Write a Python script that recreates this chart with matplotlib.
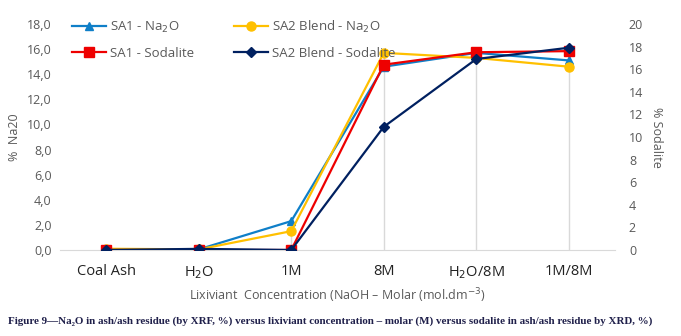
import numpy as np
import matplotlib.pyplot as plt
from matplotlib.ticker import FuncFormatter

# Data
categories = ["Coal Ash", "H$_2$O", "1M", "8M", "H$_2$O/8M", "1M/8M"]
sa1_na2o = [0.0, 0.05, 2.3, 14.6, 15.7, 15.1]
sa2_na2o = [0.1, 0.05, 1.5, 15.7, 15.3, 14.6]
sa1_sodalite = [0.0, 0.0, 0.0, 16.4, 17.5, 17.6]
sa2_sodalite = [0.0, 0.1, 0.0, 10.9, 16.9, 17.9]

plt.rcParams['font.family'] = ['Open Sans', 'DejaVu Sans']
grey = '#595959'

fig = plt.figure(figsize=(6.81, 3.36), dpi=100)
ax = fig.add_axes([60/681, 1-250/336, 555/681, 226/336])
ax2 = ax.twinx()

x = np.arange(len(categories))

# drop lines at each category
for i in x:
    top = max(sa1_na2o[i], sa2_na2o[i], sa1_sodalite[i]*18/20, sa2_sodalite[i]*18/20)
    ax.plot([i, i], [0, top], color='#d9d9d9', lw=1, zorder=1)

l1, = ax.plot(x, sa1_na2o, color='#0f7fc8', marker='^', ms=6, lw=1.6, label='SA1 - Na$_2$O', zorder=3)
l2, = ax.plot(x, sa2_na2o, color='#ffc000', marker='o', ms=6.5, lw=1.6, label='SA2 Blend - Na$_2$O', zorder=3)
l3, = ax2.plot(x, sa1_sodalite, color='#ee0000', marker='s', ms=6.5, lw=1.6, label='SA1 - Sodalite', zorder=3)
l4, = ax2.plot(x, sa2_sodalite, color='#002060', marker='D', ms=5.5, lw=1.6, label='SA2 Blend - Sodalite', zorder=3)

ax.set_xlim(-0.5, 5.5)
ax.set_ylim(0, 18)
ax2.set_ylim(0, 20)
ax.set_yticks(np.arange(0, 19, 2))
ax2.set_yticks(np.arange(0, 21, 2))
ax.yaxis.set_major_formatter(FuncFormatter(lambda v, p: f"{v:.1f}".replace('.', ',')))

ax.set_xticks(x)
ax.set_xticklabels(categories, fontsize=10.5, color='#222222')
ax.tick_params(axis='x', length=0, pad=10)
ax.tick_params(axis='y', length=0, labelsize=9, colors=grey, pad=6)
ax2.tick_params(axis='y', length=0, labelsize=9, colors=grey, pad=10)

for a in (ax, ax2):
    for s in a.spines.values():
        s.set_visible(False)
ax.spines['bottom'].set_visible(True)
ax.spines['bottom'].set_color('#d9d9d9')

ax.set_xlabel("Lixiviant  Concentration (NaOH \u2013 Molar (mol.dm$^{-3}$)", fontsize=9, color=grey, labelpad=4)
ax.set_ylabel("%  Na20", fontsize=9, color=grey, labelpad=4)
ax2.set_ylabel("% Sodalite", fontsize=9, color=grey, rotation=270, labelpad=14)

leg = ax2.legend(handles=[l1, l3, l2, l4], ncol=2, loc='upper left',
                 bbox_to_anchor=(0.0, 1.075), frameon=False, fontsize=9.5,
                 handlelength=2.6, columnspacing=3.0, labelspacing=0.9, handletextpad=0.3)
leg.set_zorder(10)
for t in leg.get_texts():
    t.set_color(grey)

fig.text(0.012, 0.035, "Figure 9\u2014Na\u2082O in ash/ash residue (by XRF, %) versus lixiviant concentration \u2013 molar (M) versus sodalite in ash/ash residue by XRD, %)",
         fontsize=7.9, fontweight='bold', family=['Liberation Serif', 'DejaVu Serif'], color='#1f1f4a')

plt.savefig('out.png', dpi=100)
